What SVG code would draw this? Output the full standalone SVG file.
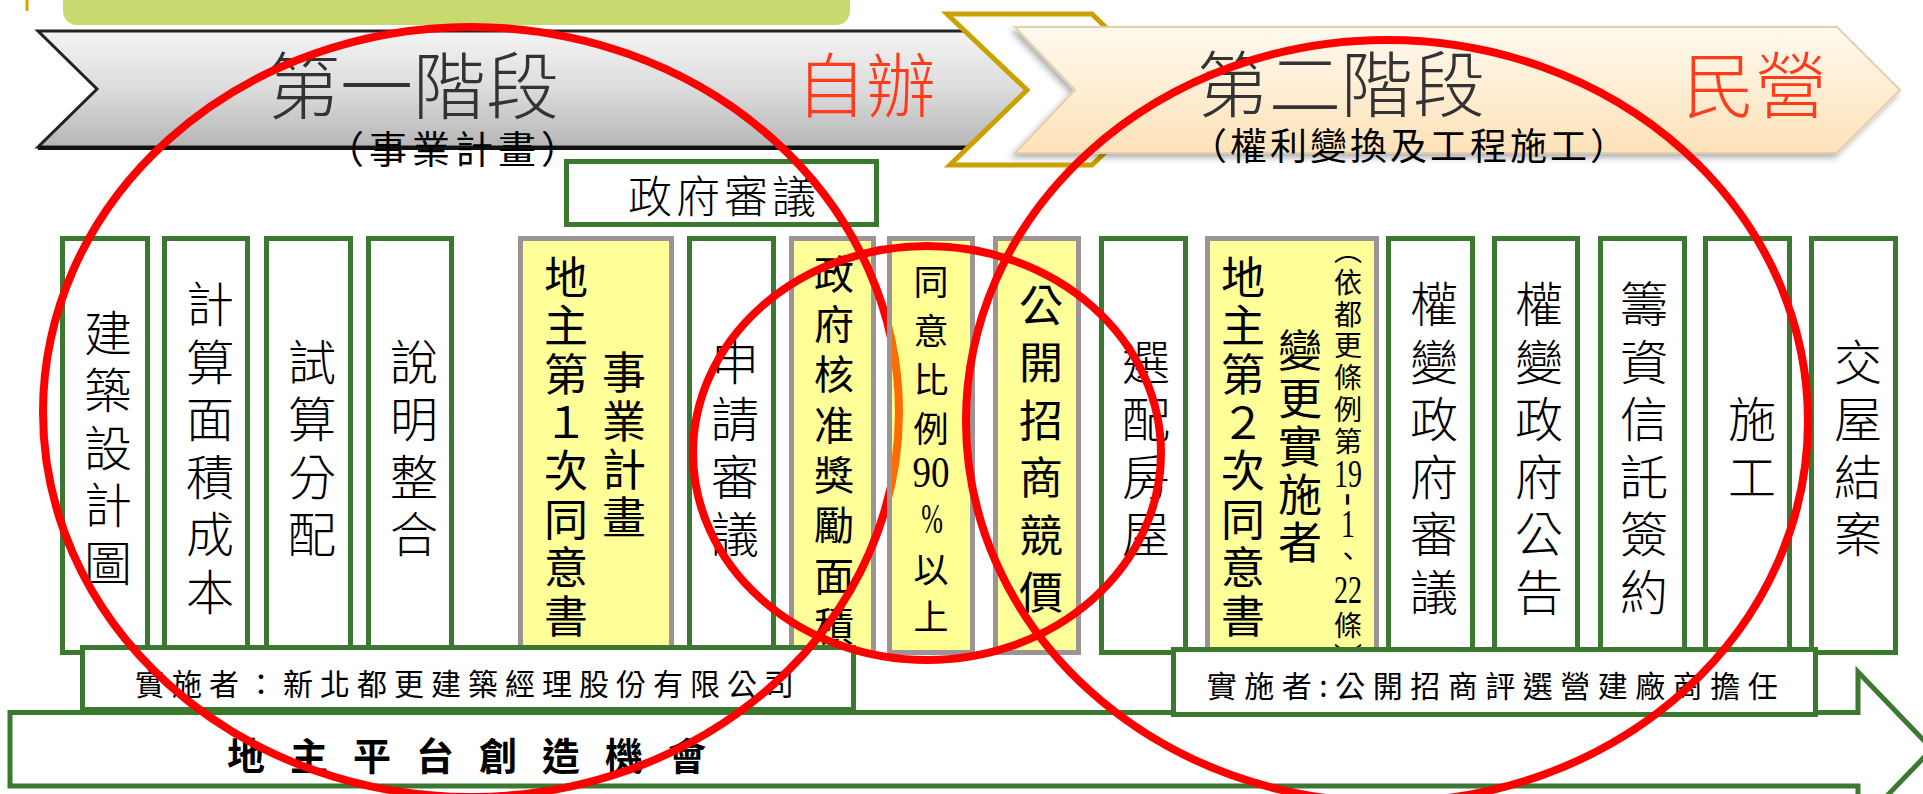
<svg xmlns="http://www.w3.org/2000/svg" width="1923" height="794" viewBox="0 0 1923 794">
<style>
.f{font-family:"Noto Sans CJK TC","Noto Sans CJK SC",sans-serif}
.t{font-family:"Liberation Sans","Noto Sans CJK TC","Noto Sans CJK SC",sans-serif}
.d{font-family:"Liberation Serif",serif;fill:#000;text-anchor:middle}
.g{fill:#fff;stroke:#3b7830;stroke-width:5}
.y{fill:#ffff99;stroke:#9c9494;stroke-width:5}
.v{writing-mode:vertical-rl;text-anchor:middle;fill:#000}
.w{font-size:48px;font-weight:300;letter-spacing:9.5px}
.yt{font-size:44px;font-weight:400}
.h{text-anchor:middle;fill:#000}
.red{fill:none;stroke:#ff0000;stroke-width:8}
.ttl{fill:#333;font-weight:300;text-anchor:middle}
.org{fill:#ff3b1a;font-weight:300;text-anchor:middle}
</style>
<defs>
<linearGradient id="gray" x1="0" y1="0" x2="0" y2="1">
<stop offset="0" stop-color="#f4f4f4"/><stop offset="0.5" stop-color="#dcdcdc"/><stop offset="1" stop-color="#b6b6b6"/>
</linearGradient>
<linearGradient id="peach" x1="0" y1="0" x2="0" y2="1">
<stop offset="0" stop-color="#fff9ef"/><stop offset="1" stop-color="#fde2b8"/>
</linearGradient>
<filter id="sh" x="-5%" y="-10%" width="110%" height="130%">
<feDropShadow dx="-3" dy="4" stdDeviation="3" flood-color="#000" flood-opacity="0.3"/>
</filter>
<clipPath id="c7"><rect x="789" y="255" width="88" height="400"/></clipPath>
</defs>
<rect width="1923" height="794" fill="#fff"/>

<g id="header">
<rect x="63" y="-20" width="787" height="45" rx="14" fill="#c8d96f"/>
<line x1="27" y1="0" x2="27" y2="11" stroke="#d9a300" stroke-width="3"/>
</g>

<g id="stage1">
<polygon points="38,31 990,31 1030,89 990,147 38,147 97,89" fill="url(#gray)" stroke="#222" stroke-width="3"/>
<line x1="38" y1="148" x2="990" y2="148" stroke="#111" stroke-width="4"/>
<text class="t ttl" x="413" y="113" font-size="73">第一階段</text>
<text class="f org" x="866" y="112" font-size="70">自辦</text>
<text class="t h" x="455" y="162.5" font-size="38" letter-spacing="5">（事業計畫）</text>
</g>

<g id="transition">
<polygon points="947,14 1092,14 1170,90 1092,165 950,165 1027,90" fill="#fff" stroke="#c9a102" stroke-width="5"/>
</g>

<g id="stage2">
<polygon points="1015,27 1837,27 1900,90 1837,153 1015,153 1075,90" fill="url(#peach)" stroke="#e3cfae" stroke-width="2" filter="url(#sh)"/>
<text class="t ttl" x="1341" y="111" font-size="72">第二階段</text>
<text class="f org" x="1755" y="112" font-size="72">民營</text>
<text class="t h" x="1410" y="160" font-size="37" letter-spacing="3">（權利變換及工程施工）</text>
</g>

<g id="gov-review">
<rect class="g" x="566.5" y="161.5" width="310" height="63"/>
<text class="f h" x="724" y="213" font-size="44" letter-spacing="4" font-weight="300">政府審議</text>
</g>

<g id="n1"><rect class="g" x="62.5" y="238.5" width="85" height="414"/>
<text class="f v w" x="108" y="452.5">建築設計圖</text></g>

<g id="n2"><rect class="g" x="164.5" y="238.5" width="83" height="414"/>
<text class="f v w" x="210" y="452.5">計算面積成本</text></g>

<g id="n3"><rect class="g" x="266.5" y="238.5" width="84" height="414"/>
<text class="f v w" x="312" y="452.5">試算分配</text></g>

<g id="n4"><rect class="g" x="368.5" y="238.5" width="83" height="414"/>
<text class="f v w" x="414" y="452.5">說明整合</text></g>

<g id="n5"><rect class="y" x="520.5" y="238.5" width="151" height="414"/>
<text class="f v yt" x="566" y="448.7" letter-spacing="4.4">地主第１次同意書</text>
<text class="f v yt" x="624" y="447.2" letter-spacing="4.3">事業計畫</text></g>

<g id="n6"><rect class="g" x="689.5" y="238.5" width="84" height="414"/>
<text class="f v w" x="735" y="452.5">申請審議</text></g>

<g id="n7"><rect class="y" x="791.5" y="238.5" width="82" height="414"/>
<text class="f v yt" x="834" y="454.9" style="font-size:40px" letter-spacing="10.3" clip-path="url(#c7)">政府核准獎勵面積</text></g>

<g id="n9"><rect class="y" x="995.5" y="238.5" width="83" height="414"/>
<text class="f v yt" x="1041" y="455.5" letter-spacing="13.5">公開招商競價</text></g>

<g id="n10"><rect class="g" x="1101.5" y="238.5" width="84" height="414"/>
<text class="f v w" x="1146" y="452.5">選配房屋</text></g>

<g id="n11"><rect class="y" x="1207.5" y="238.5" width="169" height="414"/>
<text class="f v yt" x="1243" y="448.7" letter-spacing="4.4">地主第２次同意書</text>
<text class="f v yt" x="1300" y="448.5" letter-spacing="4">變更實施者</text>
<text class="f v" x="1348" y="347.6" font-size="28" letter-spacing="3.8">（依都更條例第</text>
<text class="d" font-size="28" transform="translate(1348,487) scale(1,1.4)">19</text>
<text class="d" font-size="40" y="10" transform="translate(1348,499.5) rotate(90)">-</text>
<text class="d" font-size="28" transform="translate(1348,537) scale(1,1.4)">1</text>
<text class="f v" x="1348" y="556.5" font-size="28">、</text>
<text class="d" font-size="28" transform="translate(1348,603) scale(1,1.4)">22</text>
<text class="f v" x="1348" y="643.3" font-size="28" letter-spacing="3.8">條）</text></g>

<g id="n12"><rect class="g" x="1388.5" y="238.5" width="84" height="414"/>
<text class="f v w" x="1434" y="452.5">權變政府審議</text></g>

<g id="n13"><rect class="g" x="1494.5" y="238.5" width="83" height="414"/>
<text class="f v w" x="1539" y="452.5">權變政府公告</text></g>

<g id="n14"><rect class="g" x="1600.5" y="238.5" width="84" height="414"/>
<text class="f v w" x="1644" y="452.5">籌資信託簽約</text></g>

<g id="n15"><rect class="g" x="1705.5" y="238.5" width="84" height="414"/>
<text class="f v w" x="1752" y="452.5">施工</text></g>

<g id="n16"><rect class="g" x="1811.5" y="238.5" width="84" height="414"/>
<text class="f v w" x="1858" y="452.5">交屋結案</text></g>

<g id="platform">
<polygon points="10,712.5 1858,712.5 1858,672 1932,749 1858,826 1858,786 10,786" fill="#fff" stroke="#3b7830" stroke-width="5"/>
<text class="f" x="227" y="770" font-size="38" font-weight="700" letter-spacing="25">地主平台創造機會</text>
</g>

<g id="impl1">
<rect class="g" x="82.5" y="647.5" width="771" height="62"/>
<text class="f h" x="468" y="695" font-size="30" letter-spacing="7">實施者：新北都更建築經理股份有限公司</text>
</g>

<g id="impl2">
<rect class="g" x="1173.5" y="649.5" width="642" height="65"/>
<text class="f h" x="1496" y="697" font-size="30" letter-spacing="7.5">實施者:公開招商評選營建廠商擔任</text>
</g>

<g id="mark1"><ellipse class="red" cx="471" cy="412" rx="428" ry="385"/></g>

<g id="n8"><rect x="889.5" y="238.5" width="83" height="414" fill="#ffff00" fill-opacity="0.42" stroke="#9c9494" stroke-width="5"/>
<text class="f v" x="931" y="362" font-size="35" letter-spacing="14">同意比例</text>
<text class="d" font-size="37" transform="translate(931,487) scale(1,1.2)">90</text>
<text class="d" font-size="26" transform="translate(932,533) scale(1,1.6)">%</text>
<text class="f v" x="931" y="599.5" font-size="35" letter-spacing="12">以上</text></g>

<g id="marks">
<ellipse class="red" cx="927" cy="453" rx="234" ry="207"/>
<ellipse class="red" cx="1387" cy="421" rx="421" ry="381"/>
</g>
</svg>
